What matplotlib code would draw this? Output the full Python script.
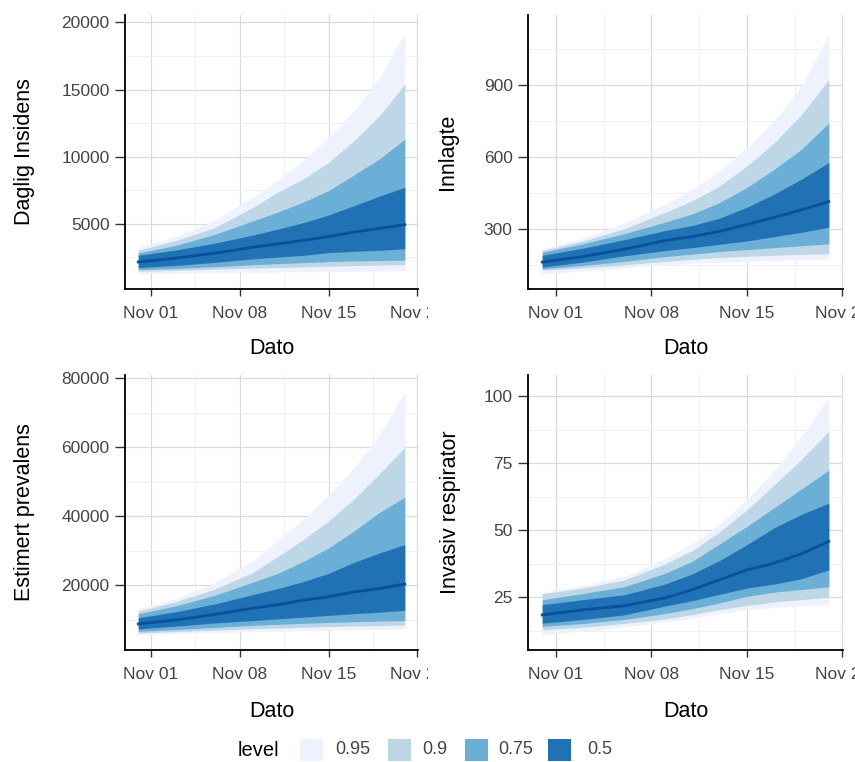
import matplotlib
matplotlib.use("Agg")
import matplotlib.pyplot as plt
import matplotlib.dates as mdates
from matplotlib.patches import Rectangle
from matplotlib.ticker import FixedLocator
from matplotlib.transforms import Bbox, TransformedBbox
import pandas as pd

plt.rcParams['font.family'] = ['Liberation Sans', 'DejaVu Sans']

# ---------------- data ----------------
dates = pd.to_datetime(["2020-10-31", "2020-11-03", "2020-11-06", "2020-11-09",
                        "2020-11-11", "2020-11-13", "2020-11-15", "2020-11-17",
                        "2020-11-19", "2020-11-21"])
levels = ["0.95", "0.9", "0.75", "0.5"]

# Daglig Insidens
ins_median = [2150, 2450, 2800, 3250, 3500, 3760, 4050, 4380, 4650, 4930]
ins_lo50 = [1730, 1900, 2120, 2380, 2520, 2650, 2850, 2950, 3020, 3140]
ins_hi50 = [2650, 3050, 3550, 4150, 4600, 5080, 5650, 6350, 7050, 7720]
ins_lo75 = [1580, 1680, 1800, 1950, 2030, 2100, 2180, 2230, 2260, 2290]
ins_hi75 = [2820, 3400, 4200, 5200, 5870, 6610, 7470, 8640, 9830, 11300]
ins_lo90 = [1460, 1530, 1620, 1700, 1740, 1790, 1840, 1880, 1920, 1960]
ins_hi90 = [3020, 3760, 4700, 6200, 7350, 8340, 9580, 11190, 13040, 15400]
ins_lo95 = [1290, 1320, 1350, 1380, 1400, 1420, 1440, 1460, 1480, 1500]
ins_hi95 = [3220, 4050, 5250, 6950, 8250, 9750, 11400, 13400, 15900, 19200]

# Innlagte
inn_median = [162, 185, 215, 252, 268, 290, 318, 348, 379, 414]
inn_lo50 = [141, 162, 188, 210, 222, 236, 250, 268, 286, 307]
inn_hi50 = [190, 220, 255, 293, 314, 345, 390, 445, 507, 576]
inn_lo75 = [134, 148, 165, 185, 195, 206, 214, 222, 230, 238]
inn_hi75 = [203, 238, 280, 328, 362, 410, 472, 548, 631, 741]
inn_lo90 = [128, 138, 150, 165, 174, 181, 186, 190, 194, 197]
inn_hi90 = [210, 250, 300, 369, 417, 479, 562, 658, 776, 921]
inn_lo95 = [114, 125, 138, 152, 157, 161, 165, 169, 172, 176]
inn_hi95 = [217, 262, 325, 403, 465, 541, 638, 750, 893, 1110]

# Estimert prevalens
pre_median = [8720, 9900, 11450, 13300, 14300, 15600, 16600, 18000, 19000, 20300]
pre_lo50 = [7250, 8100, 9000, 9700, 10200, 10700, 11200, 11700, 12150, 12640]
pre_hi50 = [10490, 12300, 14500, 17200, 19000, 21000, 23400, 26600, 29300, 31750]
pre_lo75 = [6570, 7100, 7700, 8300, 8600, 8900, 9150, 9350, 9550, 9700]
pre_hi75 = [11660, 14000, 17000, 20800, 23400, 26850, 30800, 35700, 41100, 45500]
pre_lo90 = [6080, 6500, 6900, 7350, 7550, 7750, 7950, 8100, 8250, 8400]
pre_hi90 = [12450, 15200, 18800, 23600, 28300, 33200, 38600, 45000, 52300, 60000]
pre_lo95 = [5590, 5900, 6200, 6450, 6600, 6750, 6900, 7000, 7100, 7250]
pre_hi95 = [13130, 16100, 20600, 27000, 33000, 39100, 46000, 54000, 63600, 76000]

# Invasiv respirator
res_median = [18.5, 20.4, 21.9, 24.8, 27.9, 31.6, 35.3, 37.8, 41.3, 45.9]
res_lo50 = [15.4, 16.8, 18.5, 21.8, 23.8, 26.2, 28.5, 30.0, 32.0, 35.3]
res_hi50 = [22.3, 24.2, 26.0, 30.0, 33.8, 38.8, 44.7, 51.0, 56.0, 60.2]
res_lo75 = [14.2, 15.3, 16.8, 19.0, 20.8, 23.0, 25.4, 27.0, 28.0, 29.0]
res_hi75 = [24.1, 26.5, 29.0, 34.0, 38.5, 45.0, 51.5, 58.5, 65.5, 72.5]
res_lo90 = [12.9, 13.9, 15.3, 17.0, 18.6, 20.5, 22.0, 23.3, 24.2, 25.0]
res_hi90 = [26.4, 28.5, 31.5, 37.5, 42.5, 49.5, 57.7, 67.0, 76.5, 87.0]
res_lo95 = [11.1, 12.5, 14.0, 15.9, 17.3, 19.0, 20.5, 21.2, 21.9, 22.5]
res_hi95 = [26.9, 29.5, 32.8, 39.5, 45.0, 52.5, 61.5, 72.5, 85.0, 100.0]

ins_yticks = [5000, 10000, 15000, 20000]
inn_yticks = [300, 600, 900]
pre_yticks = [20000, 40000, 60000, 80000]
res_yticks = [25, 50, 75, 100]
xtick_dates = pd.to_datetime(["2020-11-01", "2020-11-08", "2020-11-15", "2020-11-22"])
xminor_dates = pd.to_datetime(["2020-11-04 12:00", "2020-11-11 12:00", "2020-11-18 12:00"])

# ---------------- style ----------------
level_colors = ["#EEF2FC", "#BDD7E7", "#6BAED6", "#2171B5"]
median_color = "#08519C"
W, H = 855, 762

fig = plt.figure(figsize=(W / 100, H / 100), dpi=100)
fig.patch.set_facecolor("white")


def px_axes(x0, x1, ytop, ybot):
    return fig.add_axes([x0 / W, 1 - ybot / H, (x1 - x0) / W, (ybot - ytop) / H])


panels = [
    dict(rect=(125, 418, 15, 289), ylabel="Daglig Insidens",
         bands=[(ins_lo95, ins_hi95), (ins_lo90, ins_hi90), (ins_lo75, ins_hi75), (ins_lo50, ins_hi50)],
         med=ins_median, yticks=ins_yticks, ylim=(140, 20550),
         yminor=[2500, 7500, 12500, 17500], ylab_x=-0.307, clip=428, xlab_y=-0.178),
    dict(rect=(528, 843, 15, 289), ylabel="Innlagte",
         bands=[(inn_lo95, inn_hi95), (inn_lo90, inn_hi90), (inn_lo75, inn_hi75), (inn_lo50, inn_hi50)],
         med=inn_median, yticks=inn_yticks, ylim=(50, 1190),
         yminor=[150, 450, 750, 1050], ylab_x=-0.222, clip=855, xlab_y=-0.178),
    dict(rect=(125, 418, 375, 650), ylabel="Estimert prevalens",
         bands=[(pre_lo95, pre_hi95), (pre_lo90, pre_hi90), (pre_lo75, pre_hi75), (pre_lo50, pre_hi50)],
         med=pre_median, yticks=pre_yticks, ylim=(1150, 81000),
         yminor=[10000, 30000, 50000, 70000], ylab_x=-0.307, clip=428, xlab_y=-0.185),
    dict(rect=(528, 843, 375, 650), ylabel="Invasiv respirator",
         bands=[(res_lo95, res_hi95), (res_lo90, res_hi90), (res_lo75, res_hi75), (res_lo50, res_hi50)],
         med=res_median, yticks=res_yticks, ylim=(5.4, 108),
         yminor=[12.5, 37.5, 62.5, 87.5], ylab_x=-0.213, clip=855, xlab_y=-0.185),
]

xlim = (pd.Timestamp("2020-10-29 23:00"), pd.Timestamp("2020-11-22 01:00"))

for p in panels:
    ax = px_axes(*p["rect"])
    ax.set_facecolor("white")
    for (lo, hi), col in zip(p["bands"], level_colors):
        ax.fill_between(dates, lo, hi, color=col, linewidth=0, zorder=2)
    ax.plot(dates, p["med"], color=median_color, lw=2.0, zorder=3)

    ax.set_xlim(*xlim)
    ax.set_ylim(*p["ylim"])
    ax.xaxis.set_major_locator(FixedLocator(mdates.date2num(xtick_dates)))
    ax.xaxis.set_minor_locator(FixedLocator(mdates.date2num(xminor_dates)))
    ax.xaxis.set_major_formatter(mdates.DateFormatter("%b %d"))
    ax.yaxis.set_major_locator(FixedLocator(p["yticks"]))
    ax.yaxis.set_minor_locator(FixedLocator(p["yminor"]))
    ax.set_yticklabels([str(v) for v in p["yticks"]])

    ax.grid(which="major", color="#DADADA", lw=0.9, zorder=0)
    ax.grid(which="minor", color="#EEEEEE", lw=0.6, zorder=0)
    ax.set_axisbelow(True)

    for s in ["top", "right"]:
        ax.spines[s].set_visible(False)
    for s in ["left", "bottom"]:
        ax.spines[s].set_color("black")
        ax.spines[s].set_linewidth(1.3)

    ax.tick_params(axis="x", which="major", length=5, width=1.0, color="#333333",
                   labelsize=12.5, labelcolor="#444444", pad=7)
    ax.tick_params(axis="y", which="major", length=7, width=1.0, color="#333333",
                   labelsize=12.5, labelcolor="#444444", pad=4)
    ax.tick_params(which="minor", length=0)

    ax.set_xlabel("Dato", fontsize=15.5, color="black")
    ax.xaxis.set_label_coords(0.5, p["xlab_y"])
    ax.set_ylabel(p["ylabel"], fontsize=15.5, color="black")
    ax.yaxis.set_label_coords(p["ylab_x"], 0.5)

    clipbox = TransformedBbox(Bbox.from_extents(0, 0, p["clip"] / W, 1), fig.transFigure)
    for lab in ax.get_xticklabels():
        lab.set_clip_on(True)
        lab.set_clip_box(clipbox)

# ---------------- legend ----------------
fig.text(238 / W, 1 - 750 / H, "level", fontsize=14.5, color="black", ha="left", va="center")
key_x = [300, 388, 465, 548]
lab_x = [335, 422, 498, 587]
for kx, lx, lev, col in zip(key_x, lab_x, levels, level_colors):
    fig.add_artist(Rectangle((kx / W, 1 - 761 / H), 23 / W, 22 / H,
                             transform=fig.transFigure, facecolor=col, edgecolor="none"))
    fig.text(lx / W, 1 - 750 / H, lev, fontsize=13, color="#444444", ha="left", va="center")

fig.savefig("out.png", dpi=100, facecolor="white")
